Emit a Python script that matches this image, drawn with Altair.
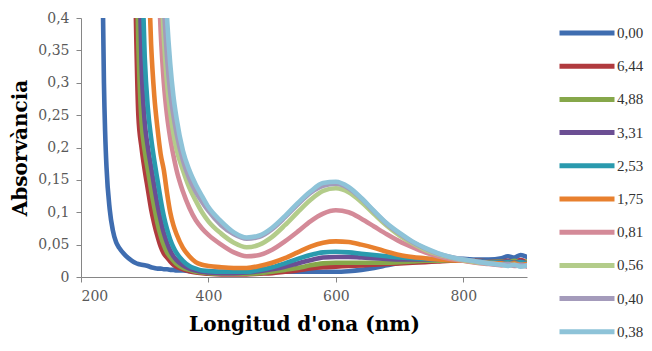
import altair as alt
import pandas as pd

N = None

# Wavelength grid (nm)
WL = [230, 232, 234, 236, 238, 240, 245, 250, 255, 260, 270, 280,
      285, 290, 295, 300, 305, 310, 315, 320, 325, 330, 335, 340, 345, 350,
      360, 370, 380, 390, 400, 420, 440, 460, 480, 500, 520, 540, 560, 580, 600,
      620, 640, 660, 680, 700, 720, 740, 760, 780, 800,
      820, 840, 860, 870, 880, 890, 900]

SERIES = ["0,00", "6,44", "4,88", "3,31", "2,53", "1,75", "0,81", "0,56", "0,40", "0,38"]
COLORS = ["#3F6DB0", "#B03A3E", "#86A74A", "#6B4E93", "#2A9AAE",
          "#E8802E", "#D48A98", "#B3CC8A", "#A49BBB", "#8EC3D8"]

A_000 = [N, 0.6, 0.45, 0.3, 0.22, 0.17, 0.105, 0.072, 0.054, 0.045, 0.033, 0.025,
         0.022, 0.02, 0.019, 0.018, 0.017, 0.015, 0.014, 0.013, 0.013, 0.012, 0.012, 0.011, 0.011, 0.01,
         0.01, 0.009, 0.009, 0.009, 0.009, 0.008, 0.008, 0.008, 0.008, 0.008, 0.008, 0.008, 0.008, 0.008, 0.008,
         0.009, 0.011, 0.014, 0.018, 0.022, 0.025, 0.027, 0.028, 0.028, 0.028,
         0.027, 0.027, 0.029, 0.032, 0.03, 0.034, 0.031]
A_644 = [N] * 12 + [0.46, 0.25, 0.2, 0.165, 0.135, 0.105, 0.082, 0.063, 0.047, 0.036, 0.03, 0.024, 0.019, 0.016,
                    0.012, 0.009, 0.007, 0.006, 0.005, 0.004, 0.004, 0.004, 0.005, 0.006, 0.008, 0.01, 0.013, 0.015, 0.016,
                    0.017, 0.018, 0.019, 0.02, 0.021, 0.022, 0.023, 0.024, 0.025, 0.025,
                    0.025, 0.024, 0.024, 0.025, 0.023, 0.026, 0.022]
A_488 = [N] * 12 + [0.6, 0.36, 0.24, 0.195, 0.165, 0.135, 0.108, 0.083, 0.064, 0.049, 0.038, 0.031, 0.025, 0.02,
                    0.014, 0.011, 0.008, 0.007, 0.006, 0.005, 0.005, 0.005, 0.006, 0.008, 0.011, 0.014, 0.018, 0.021, 0.022,
                    0.022, 0.022, 0.022, 0.022, 0.023, 0.024, 0.025, 0.025, 0.026, 0.026,
                    0.025, 0.024, 0.024, 0.023, 0.025, 0.022, 0.024]
A_331 = [N] * 13 + [0.55, 0.33, 0.24, 0.2, 0.17, 0.14, 0.112, 0.088, 0.068, 0.053, 0.041, 0.032, 0.026,
                    0.018, 0.013, 0.01, 0.008, 0.007, 0.006, 0.006, 0.007, 0.009, 0.012, 0.016, 0.021, 0.026, 0.03, 0.031,
                    0.031, 0.03, 0.029, 0.028, 0.027, 0.027, 0.027, 0.027, 0.027, 0.026,
                    0.025, 0.024, 0.023, 0.024, 0.022, 0.024, 0.021]
A_253 = [N] * 14 + [0.5, 0.34, 0.26, 0.215, 0.18, 0.15, 0.12, 0.094, 0.074, 0.058, 0.046, 0.037,
                    0.025, 0.017, 0.013, 0.01, 0.009, 0.008, 0.008, 0.008, 0.011, 0.015, 0.021, 0.028, 0.034, 0.038, 0.039,
                    0.038, 0.036, 0.034, 0.032, 0.03, 0.029, 0.028, 0.027, 0.027, 0.026,
                    0.024, 0.023, 0.022, 0.023, 0.021, 0.023, 0.02]
A_175 = [N] * 16 + [0.5, 0.36, 0.28, 0.23, 0.19, 0.165, 0.13, 0.1, 0.08, 0.066,
                    0.045, 0.032, 0.023, 0.019, 0.017, 0.015, 0.014, 0.014, 0.017, 0.022, 0.029, 0.038, 0.047, 0.053, 0.055,
                    0.054, 0.05, 0.045, 0.039, 0.034, 0.031, 0.029, 0.027, 0.026, 0.025,
                    0.023, 0.022, 0.021, 0.02, 0.021, 0.019, 0.02]
A_081 = [N] * 19 + [0.5, 0.38, 0.3, 0.25, 0.215, 0.188, 0.165,
                    0.132, 0.107, 0.088, 0.075, 0.065, 0.05, 0.038, 0.032, 0.034, 0.042, 0.055, 0.07, 0.086, 0.098, 0.103,
                    0.1, 0.09, 0.078, 0.066, 0.055, 0.046, 0.038, 0.032, 0.028, 0.025,
                    0.022, 0.02, 0.018, 0.019, 0.017, 0.018, 0.016]
A_056 = [N] * 20 + [0.48, 0.37, 0.3, 0.255, 0.222, 0.197,
                    0.165, 0.138, 0.118, 0.1, 0.086, 0.067, 0.053, 0.046, 0.05, 0.062, 0.08, 0.1, 0.119, 0.133, 0.137,
                    0.131, 0.116, 0.097, 0.079, 0.064, 0.052, 0.042, 0.035, 0.03, 0.026,
                    0.023, 0.021, 0.019, 0.018, 0.019, 0.017, 0.018]
A_040 = [N] * 21 + [0.42, 0.34, 0.285, 0.25, 0.222,
                    0.18, 0.152, 0.132, 0.116, 0.102, 0.08, 0.066, 0.059, 0.062, 0.074, 0.092, 0.112, 0.13, 0.141, 0.144,
                    0.137, 0.121, 0.101, 0.082, 0.067, 0.054, 0.044, 0.036, 0.031, 0.027,
                    0.024, 0.021, 0.019, 0.02, 0.018, 0.019, 0.017]
A_038 = [N] * 21 + [0.5, 0.4, 0.33, 0.28, 0.245,
                    0.195, 0.165, 0.143, 0.125, 0.108, 0.086, 0.069, 0.061, 0.064, 0.076, 0.094, 0.114, 0.132, 0.145, 0.147,
                    0.139, 0.122, 0.102, 0.083, 0.068, 0.055, 0.045, 0.037, 0.031, 0.027,
                    0.024, 0.021, 0.019, 0.017, 0.019, 0.016, 0.018]

VALUES = [A_000, A_644, A_488, A_331, A_253, A_175, A_081, A_056, A_040, A_038]

Y_TICKS = [0, 0.05, 0.1, 0.15, 0.2, 0.25, 0.3, 0.35, 0.4]
X_TICKS = [200, 400, 600, 800]

rows = []
for name, vals in zip(SERIES, VALUES):
    assert len(vals) == len(WL), (name, len(vals))
    for w, a in zip(WL, vals):
        if a is not None:
            rows.append({"wl": w, "A": a, "serie": name})
df = pd.DataFrame(rows)

FONT = "DejaVu Serif"

chart = alt.Chart(df).mark_line(
    strokeWidth=4.6, clip=True, interpolate="monotone", strokeCap="round", strokeJoin="round"
).encode(
    x=alt.X("wl:Q", scale=alt.Scale(domain=[200, 900], nice=False),
            axis=alt.Axis(values=X_TICKS, title="Longitud d'ona (nm)", grid=False,
                          labelFont=FONT, labelFontSize=14, labelColor="#595959",
                          labelPadding=7, tickSize=5,
                          titleFont=FONT, titleFontSize=20, titleFontWeight="bold",
                          titleColor="#000000", titlePadding=11)),
    y=alt.Y("A:Q", scale=alt.Scale(domain=[0, 0.4], nice=False),
            axis=alt.Axis(values=Y_TICKS, title="Absorvància", grid=False,
                          labelExpr="replace(format(datum.value, '~g'), '.', ',')",
                          labelFont=FONT, labelFontSize=14, labelColor="#595959",
                          labelPadding=7, tickSize=5,
                          titleFont=FONT, titleFontSize=20, titleFontWeight="bold",
                          titleColor="#000000", titlePadding=7)),
    color=alt.Color("serie:N", sort=SERIES,
                    scale=alt.Scale(domain=SERIES, range=COLORS),
                    legend=alt.Legend(orient="none", legendX=476, legendY=5, title=None,
                                      symbolType="stroke", symbolSize=3025, symbolStrokeWidth=5,
                                      clipHeight=20, rowPadding=13.2, labelOffset=0, padding=0,
                                      labelFont="Liberation Serif", labelFontSize=15,
                                      labelColor="#333333")),
    order=alt.Order("wl:Q"),
).properties(
    width=446, height=259,
    autosize=alt.AutoSizeParams(type="none"),
    padding={"left": 73, "top": 10, "right": 117, "bottom": 66},
    background="white",
).configure_view(
    stroke=None
).configure_axis(
    domainColor="#868686", tickColor="#868686"
)

chart.save("out.html", embed_options={"renderer": "svg", "actions": False})
